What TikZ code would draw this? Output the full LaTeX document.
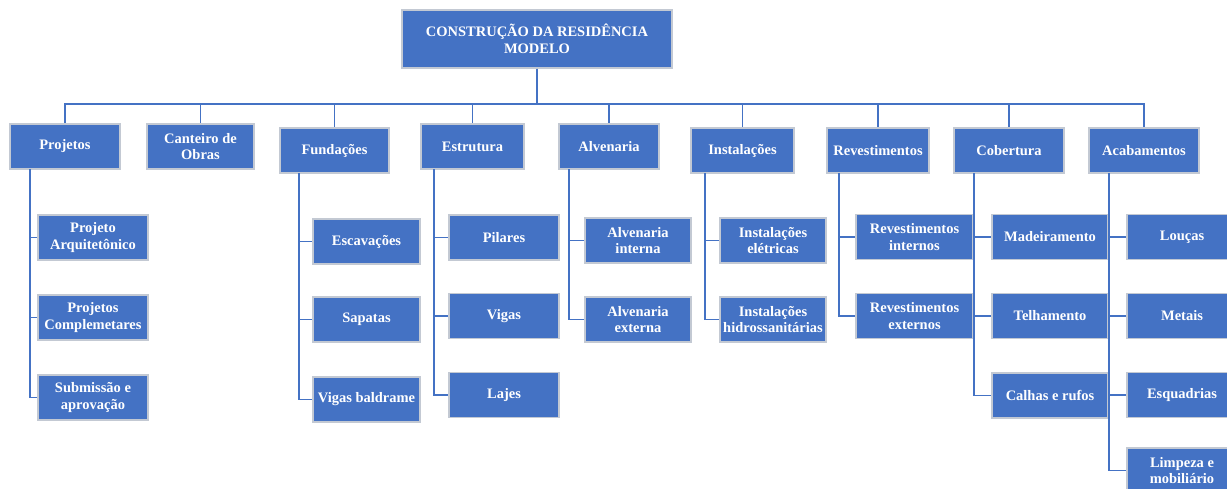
\documentclass[tikz,border=0pt]{standalone}
\usepackage{fontspec}
\setmainfont{Liberation Serif}
\usepackage{tikz}
\definecolor{boxblue}{HTML}{4472C4}
\definecolor{boxedge}{HTML}{C3C9D3}

\begin{document}
\begin{tikzpicture}[x=0.025cm, y=-0.025cm,
  box/.style={fill=boxblue, draw=boxedge, line width=0.8pt, text=white,
    font=\fontsize{10.3}{12}\selectfont\bfseries, align=center,
    minimum height=1.125cm, inner sep=1pt},
  link/.style={draw=boxblue, line width=1pt}]
\useasboundingbox (0,0) rectangle (1227,488);
%Top level
\node[box, minimum width=6.75cm, minimum height=1.45cm] (top) at (537,39) {CONSTRUÇÃO DA RESIDÊNCIA\\MODELO};
\coordinate (bus) at (537,104);
\draw[link] (top) -- (bus);
%Main groups
\node[box, minimum width=2.75cm] (proj) at (65,146.5) {Projetos};
\node[box, minimum width=2.675cm] (cant) at (200.5,146.5) {Canteiro de\\Obras};
\node[box, minimum width=2.725cm] (fund) at (334.5,150.5) {Fundações};
\node[box, minimum width=2.575cm] (estr) at (472.5,146.5) {Estrutura};
\node[box, minimum width=2.5cm] (alv) at (609,146.5) {Alvenaria};
\node[box, minimum width=2.575cm] (inst) at (742.5,150.5) {Instalações};
\node[box, minimum width=2.55cm] (rev) at (878,150.5) {Revestimentos};
\node[box, minimum width=2.75cm] (cob) at (1009,150.5) {Cobertura};
\node[box, minimum width=2.75cm] (acab) at (1144,150.5) {Acabamentos};
\foreach \g in {proj,cant,fund,estr,alv,inst,rev,cob,acab}
  \draw[link] (bus) -| (\g.north);
%Projetos
\node[box, minimum width=2.75cm] (pa) at (93,237.5) {Projeto\\Arquitetônico};
\node[box, minimum width=2.75cm] (pc) at (93,317.5) {Projetos\\Complemetares};
\node[box, minimum width=2.75cm] (ps) at (93,397.5) {Submissão e\\aprovação};
\coordinate (projs) at (30,169);
\foreach \c in {pa,pc,ps}
  \draw[link] (projs) |- (\c);
%Fundacoes
\node[box, minimum width=2.675cm] (fe) at (366.5,241.5) {Escavações};
\node[box, minimum width=2.675cm] (fs) at (366.5,319.5) {Sapatas};
\node[box, minimum width=2.675cm] (fv) at (366.5,399.5) {Vigas baldrame};
\coordinate (funds) at (299,173);
\foreach \c in {fe,fs,fv}
  \draw[link] (funds) |- (\c);
%Estrutura
\node[box, minimum width=2.75cm] (ep) at (504,237.5) {Pilares};
\node[box, minimum width=2.75cm] (ev) at (504,316) {Vigas};
\node[box, minimum width=2.75cm] (el) at (504,395) {Lajes};
\coordinate (estrs) at (434,169);
\foreach \c in {ep,ev,el}
  \draw[link] (estrs) |- (\c);
%Alvenaria
\node[box, minimum width=2.65cm] (ai) at (638,240.5) {Alvenaria\\interna};
\node[box, minimum width=2.65cm] (ax) at (638,319.5) {Alvenaria\\externa};
\coordinate (alvs) at (569,169);
\foreach \c in {ai,ax}
  \draw[link] (alvs) |- (\c);
%Instalacoes
\node[box, minimum width=2.65cm] (ie) at (773,240.5) {Instalações\\elétricas};
\node[box, minimum width=2.65cm] (ih) at (773,319.5) {Instalações\\hidrossanitárias};
\coordinate (insts) at (705,173);
\foreach \c in {ie,ih}
  \draw[link] (insts) |- (\c);
%Revestimentos
\node[box, minimum width=2.925cm] (ri) at (914.5,237) {Revestimentos\\internos};
\node[box, minimum width=2.925cm] (rx) at (914.5,316) {Revestimentos\\externos};
\coordinate (revs) at (839,173);
\foreach \c in {ri,rx}
  \draw[link] (revs) |- (\c);
%Cobertura
\node[box, minimum width=2.9cm] (cm) at (1050,237) {Madeiramento};
\node[box, minimum width=2.9cm] (ct) at (1050,316) {Telhamento};
\node[box, minimum width=2.9cm] (cc) at (1050,395.5) {Calhas e rufos};
\coordinate (cobs) at (974,173);
\foreach \c in {cm,ct,cc}
  \draw[link] (cobs) |- (\c);
%Acabamentos
\node[box, minimum width=2.75cm] (al) at (1182,237) {Louças};
\node[box, minimum width=2.75cm] (am) at (1182,316) {Metais};
\node[box, minimum width=2.75cm] (aq) at (1182,395) {Esquadrias};
\node[box, minimum width=2.75cm] (ap) at (1182,470.5) {Limpeza e\\mobiliário};
\coordinate (acabs) at (1109,173);
\foreach \c in {al,am,aq,ap}
  \draw[link] (acabs) |- (\c);
\end{tikzpicture}
\end{document}
